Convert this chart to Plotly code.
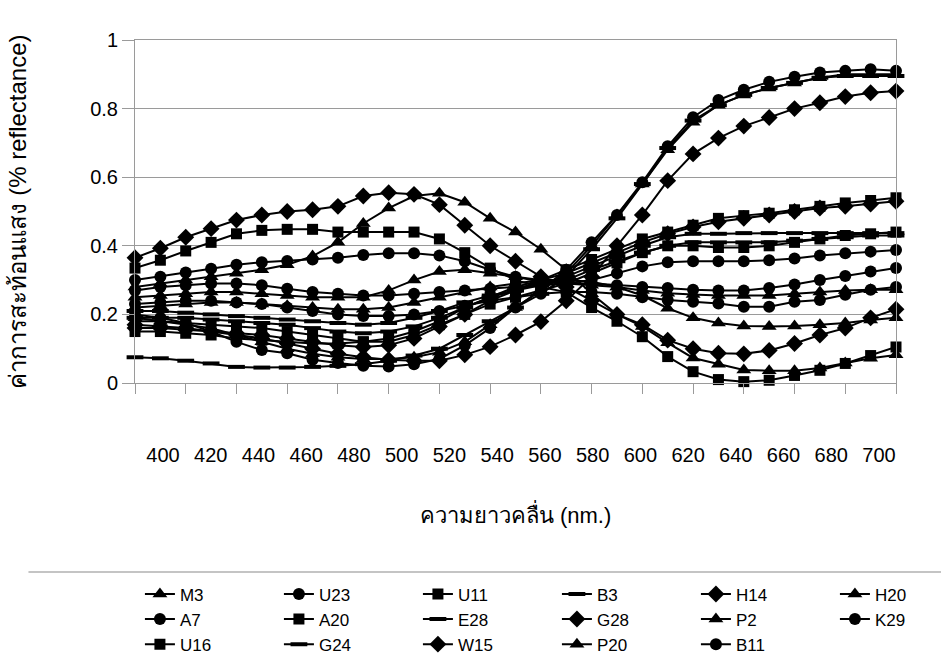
import plotly.graph_objects as go

wavelength = [400, 410, 420, 430, 440, 450, 460, 470, 480, 490, 500, 510, 520, 530, 540, 550,
              560, 570, 580, 590, 600, 610, 620, 630, 640, 650, 660, 670, 680, 690, 700]
tick_labels = [400, 420, 440, 460, 480, 500, 520, 540, 560, 580, 600, 620, 640, 660, 680, 700]

M3 = [0.22, 0.225, 0.23, 0.235, 0.235, 0.23, 0.225, 0.22, 0.215, 0.215, 0.22, 0.235, 0.25, 0.265, 0.28, 0.29,
      0.30, 0.30, 0.295, 0.28, 0.255, 0.218, 0.19, 0.175, 0.166, 0.165, 0.166, 0.17, 0.175, 0.184, 0.19]
U23 = [0.23, 0.235, 0.24, 0.24, 0.235, 0.23, 0.22, 0.21, 0.20, 0.195, 0.195, 0.20, 0.21, 0.225, 0.24, 0.25,
       0.26, 0.265, 0.265, 0.26, 0.25, 0.242, 0.237, 0.232, 0.222, 0.222, 0.237, 0.242, 0.257, 0.272, 0.28]
U11 = [0.335, 0.358, 0.385, 0.41, 0.435, 0.445, 0.448, 0.448, 0.44, 0.44, 0.44, 0.44, 0.42, 0.38, 0.335, 0.30,
       0.28, 0.265, 0.22, 0.18, 0.135, 0.077, 0.033, 0.01, 0.004, 0.008, 0.022, 0.037, 0.057, 0.08, 0.105]
B3 = [0.19, 0.19, 0.19, 0.185, 0.18, 0.175, 0.17, 0.16, 0.15, 0.145, 0.15, 0.165, 0.19, 0.22, 0.25, 0.27,
      0.29, 0.31, 0.34, 0.37, 0.40, 0.425, 0.435, 0.435, 0.437, 0.437, 0.437, 0.437, 0.437, 0.437, 0.437]
H14 = [0.17, 0.165, 0.16, 0.15, 0.14, 0.13, 0.115, 0.10, 0.085, 0.075, 0.068, 0.065, 0.065, 0.082, 0.106, 0.14,
       0.179, 0.24, 0.31, 0.40, 0.49, 0.59, 0.668, 0.714, 0.749, 0.774, 0.80, 0.817, 0.835, 0.846, 0.851]
H20 = [0.25, 0.255, 0.26, 0.265, 0.265, 0.26, 0.255, 0.25, 0.25, 0.25, 0.27, 0.30, 0.325, 0.33, 0.32, 0.31,
       0.30, 0.29, 0.285, 0.28, 0.27, 0.262, 0.258, 0.255, 0.255, 0.255, 0.26, 0.265, 0.27, 0.272, 0.272]
A7 = [0.27, 0.28, 0.285, 0.29, 0.29, 0.285, 0.275, 0.265, 0.26, 0.255, 0.255, 0.26, 0.265, 0.27, 0.275, 0.28,
      0.285, 0.29, 0.29, 0.285, 0.28, 0.277, 0.272, 0.27, 0.27, 0.277, 0.287, 0.30, 0.312, 0.325, 0.335]
A20 = [0.15, 0.15, 0.145, 0.14, 0.13, 0.125, 0.12, 0.115, 0.115, 0.12, 0.13, 0.15, 0.18, 0.22, 0.25, 0.28,
       0.30, 0.33, 0.36, 0.39, 0.42, 0.44, 0.46, 0.48, 0.488, 0.495, 0.505, 0.515, 0.525, 0.532, 0.54]
E28 = [0.21, 0.21, 0.205, 0.20, 0.195, 0.19, 0.185, 0.18, 0.175, 0.17, 0.175, 0.19, 0.21, 0.235, 0.255, 0.27,
       0.285, 0.30, 0.33, 0.355, 0.38, 0.40, 0.41, 0.41, 0.41, 0.41, 0.415, 0.42, 0.425, 0.43, 0.43]
G28 = [0.16, 0.16, 0.155, 0.15, 0.145, 0.14, 0.13, 0.12, 0.11, 0.105, 0.11, 0.13, 0.165, 0.20, 0.24, 0.27,
       0.30, 0.32, 0.35, 0.38, 0.41, 0.435, 0.455, 0.47, 0.48, 0.49, 0.50, 0.51, 0.515, 0.522, 0.53]
P2 = [0.28, 0.29, 0.30, 0.31, 0.32, 0.33, 0.345, 0.37, 0.41, 0.465, 0.51, 0.545, 0.553, 0.527, 0.48, 0.44,
      0.39, 0.33, 0.26, 0.20, 0.165, 0.117, 0.073, 0.055, 0.038, 0.036, 0.036, 0.044, 0.058, 0.072, 0.082]
K29 = [0.30, 0.31, 0.322, 0.333, 0.345, 0.352, 0.356, 0.36, 0.365, 0.373, 0.378, 0.378, 0.372, 0.355, 0.33, 0.31,
       0.295, 0.29, 0.30, 0.32, 0.34, 0.352, 0.355, 0.355, 0.355, 0.358, 0.363, 0.372, 0.378, 0.383, 0.388]
U16 = [0.18, 0.18, 0.175, 0.17, 0.165, 0.16, 0.15, 0.14, 0.13, 0.12, 0.12, 0.14, 0.17, 0.20, 0.23, 0.25,
       0.27, 0.29, 0.32, 0.35, 0.38, 0.40, 0.40, 0.395, 0.395, 0.40, 0.41, 0.42, 0.43, 0.435, 0.44]
G24 = [0.075, 0.072, 0.065, 0.057, 0.047, 0.045, 0.045, 0.047, 0.05, 0.055, 0.065, 0.08, 0.10, 0.14, 0.18, 0.22,
       0.26, 0.31, 0.39, 0.48, 0.58, 0.685, 0.765, 0.81, 0.84, 0.86, 0.875, 0.89, 0.895, 0.895, 0.895]
W15 = [0.365, 0.393, 0.425, 0.45, 0.475, 0.49, 0.50, 0.505, 0.515, 0.545, 0.555, 0.55, 0.52, 0.46, 0.40, 0.355,
       0.31, 0.28, 0.24, 0.20, 0.17, 0.125, 0.10, 0.087, 0.085, 0.095, 0.115, 0.14, 0.16, 0.19, 0.215]
P20 = [0.19, 0.18, 0.17, 0.16, 0.14, 0.12, 0.10, 0.085, 0.075, 0.07, 0.07, 0.075, 0.09, 0.12, 0.17, 0.22,
       0.27, 0.32, 0.40, 0.49, 0.58, 0.68, 0.76, 0.81, 0.84, 0.86, 0.875, 0.89, 0.90, 0.90, 0.90]
B11 = [0.20, 0.19, 0.175, 0.15, 0.12, 0.096, 0.087, 0.068, 0.058, 0.05, 0.048, 0.055, 0.07, 0.11, 0.16, 0.22,
       0.27, 0.33, 0.41, 0.49, 0.585, 0.69, 0.775, 0.825, 0.855, 0.878, 0.893, 0.905, 0.91, 0.915, 0.91]

series_names = ["M3", "U23", "U11", "B3", "H14", "H20",
                "A7", "A20", "E28", "G28", "P2", "K29",
                "U16", "G24", "W15", "P20", "B11"]
series_values = [M3, U23, U11, B3, H14, H20, A7, A20, E28, G28, P2, K29, U16, G24, W15, P20, B11]
series_symbols = ["triangle-up", "circle", "square", "line-ew", "diamond", "triangle-up",
                  "circle", "square", "line-ew", "diamond", "triangle-up", "circle",
                  "square", "line-ew", "diamond", "triangle-up", "circle"]
last_column = {"H20", "K29"}

FONT = "Liberation Sans, Arial, Noto Sans, sans-serif"

fig = go.Figure()
for name, vals, sym in zip(series_names, series_values, series_symbols):
    if sym == "line-ew":
        marker = dict(symbol=sym, size=12, color="black", line=dict(color="black", width=4))
    elif sym in ("triangle-up", "diamond"):
        marker = dict(symbol=sym, size=13, color="black", line=dict(width=0))
    elif sym == "circle":
        marker = dict(symbol=sym, size=12, color="black", line=dict(width=0))
    else:
        marker = dict(symbol=sym, size=11, color="black", line=dict(width=0))
    kw = {}
    if name in last_column:
        kw["legendwidth"] = 45
    fig.add_trace(go.Scatter(x=wavelength, y=vals, name=name, mode="lines+markers",
                             line=dict(color="black", width=2), marker=marker,
                             cliponaxis=False, **kw))

# helper trace for the label axis
fig.add_trace(go.Scatter(x=wavelength, y=[None] * len(wavelength), xaxis="x2",
                         showlegend=False, hoverinfo="skip", mode="lines"))

grid = "#9a9a9a"
fig.update_layout(
    width=941, height=668,
    margin=dict(l=135, r=45, t=40, b=285, autoexpand=False),
    paper_bgcolor="white", plot_bgcolor="white",
    font=dict(family=FONT, size=20, color="black"),
    showlegend=True,
    legend=dict(orientation="h", x=-0.0001, xanchor="left", y=-0.5638, yanchor="top",
                entrywidth=89, entrywidthmode="pixels", indentation=5,
                font=dict(size=17, family=FONT),
                traceorder="normal", itemsizing="trace"),
    xaxis=dict(range=[400, 700], tickvals=tick_labels, showticklabels=False,
               ticks="outside", ticklen=10, tickcolor=grid, showgrid=False, zeroline=False,
               showline=True, linecolor=grid, mirror=True),
    xaxis2=dict(overlaying="x", anchor="y", side="bottom", range=[388.27, 707.12],
                tickvals=tick_labels, ticktext=[str(t) for t in tick_labels],
                ticks="outside", ticklen=54, tickcolor="rgba(0,0,0,0)",
                showgrid=False, zeroline=False, showline=False,
                tickfont=dict(size=20, family=FONT),
                title=dict(text="ความยาวคลื่น (nm.)", font=dict(size=22, family=FONT), standoff=42)),
    yaxis=dict(range=[0, 1], dtick=0.2, ticks="outside", ticklen=12, tickcolor=grid,
               showgrid=True, gridcolor=grid, gridwidth=1, zeroline=False,
               showline=True, linecolor=grid, mirror=True,
               tickfont=dict(size=20, family=FONT),
               title=dict(text="\u00a0\u00a0ค่าการสะท้อนแสง (% reflectance)", font=dict(size=24, family=FONT),
                          standoff=56)),
    shapes=[dict(type="line", xref="paper", yref="paper", x0=-0.14, x1=1.06, y0=-0.551, y1=-0.551,
                 line=dict(color="#b0b0b0", width=1.5))],
)

fig.write_html("out.html")
